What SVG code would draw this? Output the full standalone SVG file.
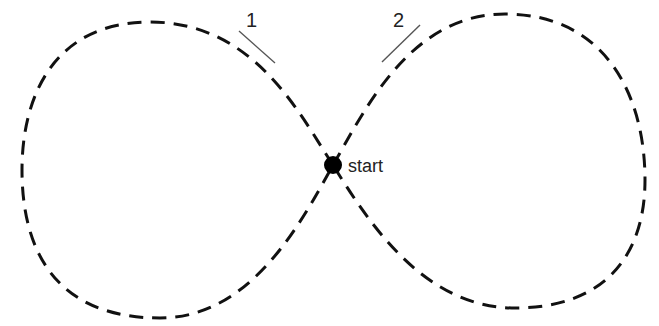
<svg xmlns="http://www.w3.org/2000/svg" width="659" height="326" viewBox="0 0 659 326">
<style>
.track{fill:none;stroke:#111;stroke-width:3;stroke-dasharray:14 9;stroke-linecap:butt}
.leader{fill:none;stroke:#555;stroke-width:1.4}
.lbl{font-family:"Liberation Sans",Arial,sans-serif;fill:#222}
</style>
<rect width="659" height="326" fill="#fff"/>
<g id="connectors">
<path class="track" d="M333,165 C300,115 255,22 150,22 C55,22 22,95 22,170 C22,250 55,318 160,318 C250,318 300,225 333,165"/>
<path class="track" d="M333,165 C365,110 410,14 505,14 C605,14 645,95 645,180 C645,255 605,308 515,308 C425,308 370,225 333,165"/>
</g>
<g id="start">
<circle cx="333" cy="165" r="9" fill="#000"/>
<text class="lbl" x="348" y="172" font-size="18">start</text>
</g>
<g id="label1">
<line class="leader" x1="239" y1="31" x2="275" y2="63"/>
<text class="lbl" x="246" y="27" font-size="20">1</text>
</g>
<g id="label2">
<line class="leader" x1="382" y1="62" x2="420" y2="25"/>
<text class="lbl" x="393" y="27" font-size="20">2</text>
</g>
</svg>
